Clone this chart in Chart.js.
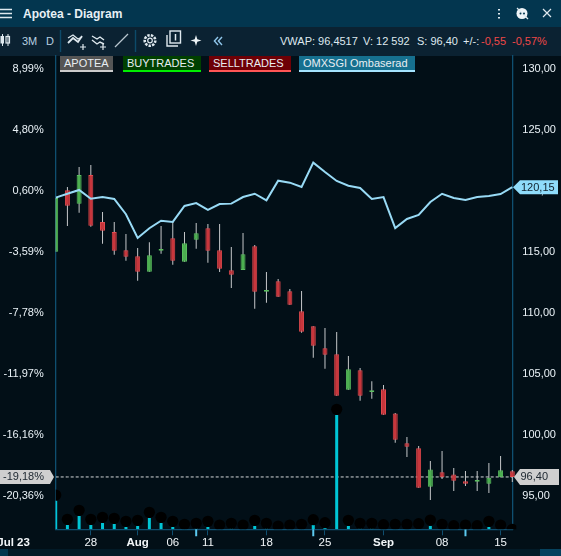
<!DOCTYPE html>
<html><head><meta charset="utf-8">
<style>
html,body{margin:0;padding:0;background:#020f17;width:561px;height:556px;overflow:hidden;font-family:"Liberation Sans",Arial,sans-serif}
#c{position:absolute;left:0;top:0}
.bar{position:absolute;left:0;width:561px}
.t{position:absolute;white-space:nowrap;font-size:11px;line-height:14px;color:#dfe9ef}
.lg{position:absolute;top:56px;height:14px;line-height:14px;font-size:11px;color:#e9eef2;box-sizing:content-box;padding-left:4px;white-space:nowrap;border-bottom:2px solid}
svg{position:absolute;overflow:visible}
</style>
</head><body>
<div class="bar" style="top:0;height:27px;background:#03364f"></div>
<div class="bar" style="top:27px;height:28.5px;background:#0b2232"></div>
<div class="bar" style="top:549px;height:7px;background:#021a27"></div>
<div style="position:absolute;left:0;top:549px;width:8px;height:7px;background:#03364f"></div>
<div style="position:absolute;left:540px;top:549px;width:21px;height:7px;background:#06425e"></div>
<svg style="left:0;top:0" width="561" height="55" fill="none" stroke="#dfe9ef">
 <path d="M0 9.5H12M0 13.5H12M0 17.5H12" stroke-width="1.4"/>
 <path d="M2.5 34V46M8 34V46" stroke-width="1"/><rect x="0.5" y="36" width="3.5" height="7.5" fill="#dfe9ef" stroke="none"/><rect x="6" y="36.5" width="3.5" height="6.5" fill="none" stroke-width="1.2"/>
 <path d="M68 43l5-5 5 4 4-6" stroke-width="1.8"/><path d="M68 38l5-3 5 4 4-2" stroke-width="1.2"/><path d="M80 47h6M83 44v6" stroke-width="1.2"/>
 <path d="M92 36l5 3 3-2 4 3M92 40l5 4 3-2 4 2" stroke-width="1.4"/><path d="M100 47h6M103 44v6" stroke-width="1.2"/>
 <path d="M115 47L128 34" stroke="#b9c6cf" stroke-width="1.2"/>
 <circle cx="150" cy="40.5" r="5.3" stroke-width="2.6" stroke-dasharray="2.4 1.2"/><circle cx="150" cy="40.5" r="2.3" stroke-width="1.2"/>
 <rect x="170" y="31" width="10.5" height="12" stroke-width="1.4"/><path d="M167 35v11h11" stroke-width="1.4"/><path d="M175.5 34v6.5" stroke-width="1.5"/>
 <path d="M196 35l1.3 4.2 4.2 1.3-4.2 1.3-1.3 4.2-1.3-4.2-4.2-1.3 4.2-1.3z" fill="#eef4f7" stroke="none"/>
 <path d="M218 37l-3.6 4 3.6 4M222 37l-3.6 4 3.6 4" stroke="#8fc6ea" stroke-width="1.4"/>
 <path d="M499 9v1.6M499 13v1.6M499 17v1.6" stroke-width="2"/>
 <circle cx="522" cy="13.5" r="5.5" fill="#eef4f7" stroke="none"/><path d="M517 8l11 11" stroke-width="1.3"/><circle cx="520.5" cy="13.5" r="1" fill="#03364f" stroke="none"/><circle cx="524" cy="13.5" r="1" fill="#03364f" stroke="none"/>
 <path d="M543 9l8 8M551 9l-8 8" stroke-width="1.2"/>
 <path d="M60.5 30V52M135.5 30V52" stroke="#0d4a6a" stroke-width="1.4"/>
</svg>
<div class="t" style="left:23px;top:6.5px;font-weight:bold;font-size:12px;color:#e8f0f5">Apotea - Diagram</div>
<div class="t" style="left:22px;top:34px;color:#b8d0e0">3M</div>
<div class="t" style="left:46px;top:34px;color:#b8d0e0">D</div>
<div class="t" style="left:280px;top:34px">VWAP: 96,4517</div>
<div class="t" style="left:363px;top:34px">V: 12 592</div>
<div class="t" style="left:417px;top:34px">S: 96,40</div>
<div class="t" style="left:463px;top:34px">+/-:</div>
<div class="t" style="left:481px;top:34px;color:#f04848">-0,55</div>
<div class="t" style="left:512px;top:34px;color:#f04848">-0,57%</div>
<div class="lg" style="left:60px;width:49px;background:#555;border-color:#ccc">APOTEA</div>
<div class="lg" style="left:123px;width:74px;background:#004000;border-color:#00ee00">BUYTRADES</div>
<div class="lg" style="left:209px;width:78px;background:#6e0006;border-color:#ff5555">SELLTRADES</div>
<div class="lg" style="left:299px;width:112px;background:#16708f;border-color:#a5e4ff">OMXSGI Ombaserad</div>
<canvas id="c" width="561" height="556"></canvas>
<script src="https://cdn.jsdelivr.net/npm/chart.js@4"></script>
<script>
const categories=['Jul 25','Jul 26','Jul 27','Jul 28','Jul 31','Aug 1','Aug 2','Aug 3','Aug 4','Aug 7','Aug 8','Aug 9','Aug 10','Aug 11','Aug 14','Aug 15','Aug 16','Aug 17','Aug 18','Aug 21','Aug 22','Aug 23','Aug 24','Aug 25','Aug 28','Aug 29','Aug 30','Aug 31','Sep 1','Sep 4','Sep 5','Sep 6','Sep 7','Sep 8','Sep 11','Sep 12','Sep 13','Sep 14','Sep 15','Sep 18'];
const opens=[114.86,119.89,118.80,121.15,117.30,116.48,114.98,114.48,113.22,114.94,115.96,114.04,115.84,116.78,114.98,113.34,113.36,115.30,111.58,112.43,111.62,109.98,108.75,106.94,106.45,103.55,105.14,103.36,103.58,101.61,99.16,98.75,95.60,96.78,96.61,96.04,96.01,95.84,96.37,96.86];
const closes=[119.26,118.63,121.15,116.99,116.58,114.94,114.45,113.22,114.57,115.08,114.12,115.55,116.37,114.94,113.47,112.98,114.65,111.58,111.72,111.17,110.52,108.30,107.16,106.42,103.06,105.22,103.06,103.50,101.50,99.45,98.88,95.52,97.02,96.37,96.09,95.84,96.15,96.34,96.94,96.40];
const highs=[119.26,120.16,121.80,121.97,118.12,117.30,116.31,115.16,115.63,116.97,117.30,116.48,117.21,117.13,117.13,115.25,116.39,115.41,113.20,112.62,111.80,111.64,108.75,108.61,108.28,106.31,105.33,104.24,103.93,101.64,99.67,98.93,97.70,98.52,97.13,96.89,96.89,97.54,98.11,96.97];
const lows=[114.86,116.97,118.06,116.91,115.52,114.62,114.12,112.48,113.22,114.70,113.80,114.04,115.11,113.96,113.20,111.89,113.36,110.19,110.68,111.17,110.52,108.22,106.17,105.27,103.06,103.55,102.65,102.81,101.50,99.20,98.03,95.52,94.51,96.23,95.25,95.66,95.25,95.08,96.37,95.98];
const omxsgi=[119.29,119.61,119.92,119.20,119.34,119.18,117.93,115.98,116.78,117.40,117.30,118.61,118.85,118.28,118.77,118.80,119.34,119.61,119.07,120.68,120.52,120.16,122.16,121.39,120.66,120.27,120.08,119.18,119.34,116.80,117.54,117.87,118.93,119.61,119.26,119.10,119.34,119.43,119.59,120.15];
const volumes=[286,43,133,43,63,53,23,33,113,63,23,5,10,23,5,10,3,33,10,1,3,5,43,13,1143,33,10,10,3,5,5,10,33,3,1,3,1,23,3,1];
const tradeDots=[343,100,190,100,120,110,80,90,170,120,80,50,60,80,43,60,43,90,60,33,43,50,96,66,1200,90,60,60,46,50,50,56,93,50,36,43,36,80,43,0];
const eventMarks=[null,null,null,null,null,null,null,null,null,null,null,null,-70,null,null,null,null,null,null,null,null,null,-70,null,null,null,null,null,null,null,null,null,null,null,null,-70,null,null,null,null];
const priceTicks=[95,100,105,110,115,120,125,130];
const priceLabels=['95,00','100,00','105,00','110,00','115,00','120,00','125,00','130,00'];
const pctLabels=['-20,36%','-16,16%','-11,97%','-7,78%','-3,59%','0,60%','4,80%','8,99%'];
const xTickAt=[-3.6,3,7,10,13,18,23,28,33,38];
const xTickLabels=['Jul 23','28','Aug','06','11','18','25','Sep','08','15'];
const lastPct='-19,18%';
const priceMin=92.11, priceMax=130.94, volMax=4738;

const fam='"Liberation Sans", Arial, sans-serif';
const UP='#4caf50', UPB='#5cbf60', DN='#c8363c', DNB='#e24a4e';
const last=closes[closes.length-1], lastOmx=omxsgi[omxsgi.length-1];
const fmt=v=>v.toFixed(2).replace('.',',');
const edge={left:0,top:0,bottom:0,right:4};

const tagPlugin={id:'tags',afterDraw(ch){
  const c=ch.ctx,s=ch.scales.y;
  const tag=(pts,fill,txt,x,y,col)=>{
    c.save();c.beginPath();pts.forEach((p,i)=>i?c.lineTo(p[0],p[1]):c.moveTo(p[0],p[1]));c.closePath();
    c.fillStyle=fill;c.fill();c.fillStyle=col;c.font='11px '+fam;c.textBaseline='middle';c.textAlign='left';c.fillText(txt,x,y+0.5);c.restore();
  };
  const r=s.getPixelForValue(lastOmx);
  tag([[513,r],[520,r-7],[558,r-7],[558,r+7],[520,r+7]],'#8fdcfb',fmt(lastOmx),521,r,'#10202c');
  const g=s.getPixelForValue(last);
  tag([[514,g],[520,g-8],[559,g-8],[559,g+8],[520,g+8]],'#cfcfcf',fmt(last),520.5,g,'#202a33');
  tag([[0,g-7],[50,g-7],[54,g],[50,g+7],[0,g+7]],'#cfcfcf',lastPct,3,g,'#202a33');
}};

new Chart(document.getElementById('c'),{
 type:'bar',
 plugins:[tagPlugin],
 data:{labels:categories,datasets:[
  {type:'line',label:'OMXSGI Ombaserad',data:omxsgi,yAxisID:'y',borderColor:'#98daf5',borderWidth:2,pointRadius:0,tension:0,order:0,clip:edge},
  {type:'line',label:'Trades',data:tradeDots,yAxisID:'yv',showLine:false,pointRadius:5.6,pointBackgroundColor:'#000',pointBorderWidth:0,order:1,clip:edge},
  {label:'APOTEA',data:opens.map((o,i)=>[o,closes[i]]),yAxisID:'y',grouped:false,barThickness:5,inflateAmount:0,borderSkipped:false,borderWidth:1,
   backgroundColor:opens.map((o,i)=>closes[i]>o?UP:DN),borderColor:opens.map((o,i)=>closes[i]>o?UPB:DNB),order:2,clip:edge},
  {label:'Range',data:highs.map((h,i)=>[lows[i],h]),yAxisID:'y',grouped:false,barThickness:1,inflateAmount:0,borderWidth:0,backgroundColor:'#c6c8ca',order:3,clip:edge},
  {label:'Volume',data:volumes,yAxisID:'yv',grouped:false,barThickness:3,inflateAmount:0,borderWidth:0,backgroundColor:'#00c6d6',order:4,clip:edge},
  {label:'Events',data:eventMarks.map(v=>v===null?null:[0,v]),yAxisID:'yv',grouped:false,barThickness:2,inflateAmount:0,borderWidth:0,backgroundColor:'#5cc9ef',order:4,clip:{left:0,top:0,right:4,bottom:8}},
  {type:'line',label:'Last',data:closes.map(()=>last),yAxisID:'y',borderColor:'#d6d8da',borderWidth:1,borderDash:[3,2],pointRadius:0,order:5,clip:edge}
 ]},
 options:{
  responsive:false,animation:false,devicePixelRatio:1,
  layout:{padding:{top:55.5,left:0,right:0,bottom:0}},
  plugins:{legend:{display:false},tooltip:{enabled:false}},
  events:[],
  scales:{
   x:{type:'category',offset:false,
      grid:{display:true,offset:false,drawOnChartArea:false,drawTicks:true,tickLength:6,tickWidth:1,tickColor:c=>c.index===0?'transparent':'#0f4f70'},
      border:{color:'#0f4f70',width:1.3},
      afterBuildTicks:s=>{s.ticks=xTickAt.map(v=>({value:v}));},
      afterFit:s=>{s.height=26.7;s.paddingLeft=0;s.paddingRight=0;},
      ticks:{autoSkip:false,maxRotation:0,minRotation:0,padding:1,color:'#f2f6f9',
        font:c=>({family:fam,size:11.5,weight:/[A-Za-z]/.test(c.tick&&c.tick.label||'')?'bold':'normal'}),
        callback:(v,i)=>xTickLabels[i]}},
   y:{type:'linear',position:'right',min:priceMin,max:priceMax,
      grid:{display:true,drawOnChartArea:false,drawTicks:false},border:{color:'#0f4f70',width:1.3},
      afterBuildTicks:s=>{s.ticks=priceTicks.map(v=>({value:v}));},
      afterFit:s=>{s.width=48.7;},
      ticks:{autoSkip:false,padding:10,labelOffset:1.5,color:'#eaf2f7',font:{family:fam,size:11},callback:(v,i)=>priceLabels[i]}},
   yl:{type:'linear',position:'left',min:priceMin,max:priceMax,
      grid:{display:true,drawOnChartArea:false,drawTicks:false},border:{color:'#0f4f70',width:1.3},
      afterBuildTicks:s=>{s.ticks=priceTicks.map(v=>({value:v}));},
      afterFit:s=>{s.width=55.7;},
      ticks:{autoSkip:false,padding:12,labelOffset:1.5,color:'#eaf2f7',font:{family:fam,size:11},callback:(v,i)=>pctLabels[i]}},
   yv:{type:'linear',display:false,min:0,max:volMax}
  }
 }
});
</script>
</body></html>
